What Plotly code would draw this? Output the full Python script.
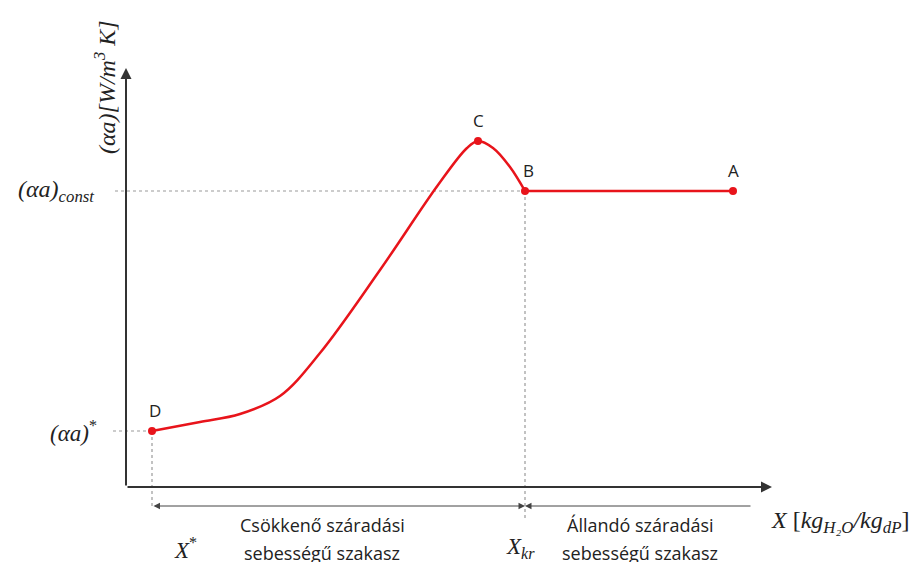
import plotly.graph_objects as go

# Curve (arbitrary units, origin at axes intersection)
curve_x = [26, 74, 114, 154, 194, 254, 312, 341, 352, 367, 384, 399]
curve_y = [56, 65, 73, 91, 134, 217, 302, 339, 346, 339, 320, 296]
flat_x = [399, 607]
flat_y = [296, 296]

point_names = ["D", "C", "B", "A"]
point_x = [26, 352, 399, 607]
point_y = [56, 346, 296, 296]

x_star = 26
x_kr = 399
x_end = 626
y_const = 296
y_star = 56
x_axis_len = 646
y_axis_len = 419

RED = "#e8141b"
AX = "#333333"
DASH = "#9a9a9a"

fig = go.Figure()

fig.add_trace(go.Scatter(x=curve_x, y=curve_y, mode="lines",
                         line=dict(color=RED, width=2.5, shape="spline", smoothing=1.0),
                         hoverinfo="skip", showlegend=False))
fig.add_trace(go.Scatter(x=flat_x, y=flat_y, mode="lines",
                         line=dict(color=RED, width=2.5),
                         hoverinfo="skip", showlegend=False))
fig.add_trace(go.Scatter(x=point_x, y=point_y, mode="markers",
                         marker=dict(color=RED, size=8),
                         hoverinfo="skip", showlegend=False))

# dashed guide lines
dash_lines = [
    (-11, y_const, x_kr, y_const),
    (-13, y_star, x_star, y_star),
    (x_star, y_star, x_star, -19),
    (x_kr, y_const, x_kr, -33),
]
for x0, y0, x1, y1 in dash_lines:
    fig.add_shape(type="line", x0=x0, y0=y0, x1=x1, y1=y1, xref="x", yref="y",
                  line=dict(color=DASH, width=1.2, dash="dot"), layer="below")

anns = []
# axes arrows
anns.append(dict(x=0, y=y_axis_len, ax=0, ay=0, xref="x", yref="y", axref="x", ayref="y",
                 showarrow=True, arrowhead=2, arrowsize=1.1, arrowwidth=2, arrowcolor=AX, text=""))
anns.append(dict(x=x_axis_len, y=0, ax=0, ay=0, xref="x", yref="y", axref="x", ayref="y",
                 showarrow=True, arrowhead=2, arrowsize=1.1, arrowwidth=2, arrowcolor=AX, text=""))
# dimension lines
anns.append(dict(x=x_kr, y=-19, ax=x_star, ay=-19, xref="x", yref="y", axref="x", ayref="y",
                 showarrow=True, arrowhead=2, arrowside="end+start", arrowsize=1.3, arrowwidth=1,
                 arrowcolor="#444", text=""))
anns.append(dict(x=x_kr, y=-19, ax=x_end, ay=-19, xref="x", yref="y", axref="x", ayref="y",
                 showarrow=True, arrowhead=2, arrowsize=1.3, arrowwidth=1,
                 arrowcolor="#444", text=""))

# point letters
for n, px, py in zip(point_names, point_x, point_y):
    dx = 3 if n in ("D", "B") else 0
    anns.append(dict(x=px + dx, y=py + 7, text=n, showarrow=False, xref="x", yref="y",
                     yanchor="bottom", font=dict(family="Open Sans", size=17, color="#222")))

serif = "Liberation Serif"
anns.append(dict(x=-70, y=y_const, text="<i>(αa)<sub>const</sub></i>", showarrow=False,
                 font=dict(family=serif, size=24, color="#222")))
anns.append(dict(x=-53, y=y_star, text="<i>(αa)</i><sup>*</sup>", showarrow=False,
                 font=dict(family=serif, size=23, color="#222")))
anns.append(dict(x=-21, y=400, text="<i>(αa)[W/m<sup>3</sup> K]</i>", showarrow=False, textangle=-90,
                 font=dict(family=serif, size=24, color="#222")))
anns.append(dict(x=714, y=-35, text="<i>X</i> [<i>kg<sub>H₂O</sub>/kg<sub>dP</sub></i>]", showarrow=False,
                 font=dict(family=serif, size=24, color="#222")))
anns.append(dict(x=59, y=-61, text="<i>X</i><sup>*</sup>", showarrow=False,
                 font=dict(family=serif, size=23, color="#222")))
anns.append(dict(x=394, y=-61, text="<i>X<sub>kr</sub></i>", showarrow=False,
                 font=dict(family=serif, size=23, color="#222")))
anns.append(dict(x=196, y=-38, text="Csökkenő száradási", showarrow=False,
                 font=dict(family="Open Sans", size=18, color="#222")))
anns.append(dict(x=196, y=-66, text="sebességű szakasz", showarrow=False,
                 font=dict(family="Open Sans", size=18, color="#222")))
anns.append(dict(x=514, y=-38, text="Állandó száradási", showarrow=False,
                 font=dict(family="Open Sans", size=18, color="#222")))
anns.append(dict(x=514, y=-66, text="sebességű szakasz", showarrow=False,
                 font=dict(family="Open Sans", size=18, color="#222")))

fig.update_layout(
    width=921, height=562,
    margin=dict(l=0, r=0, t=0, b=0),
    plot_bgcolor="white", paper_bgcolor="white",
    xaxis=dict(range=[-118, 803], visible=False, fixedrange=True),
    yaxis=dict(range=[-83, 479], visible=False, fixedrange=True),
    annotations=anns,
    showlegend=False,
)

fig.write_html("out.html")
